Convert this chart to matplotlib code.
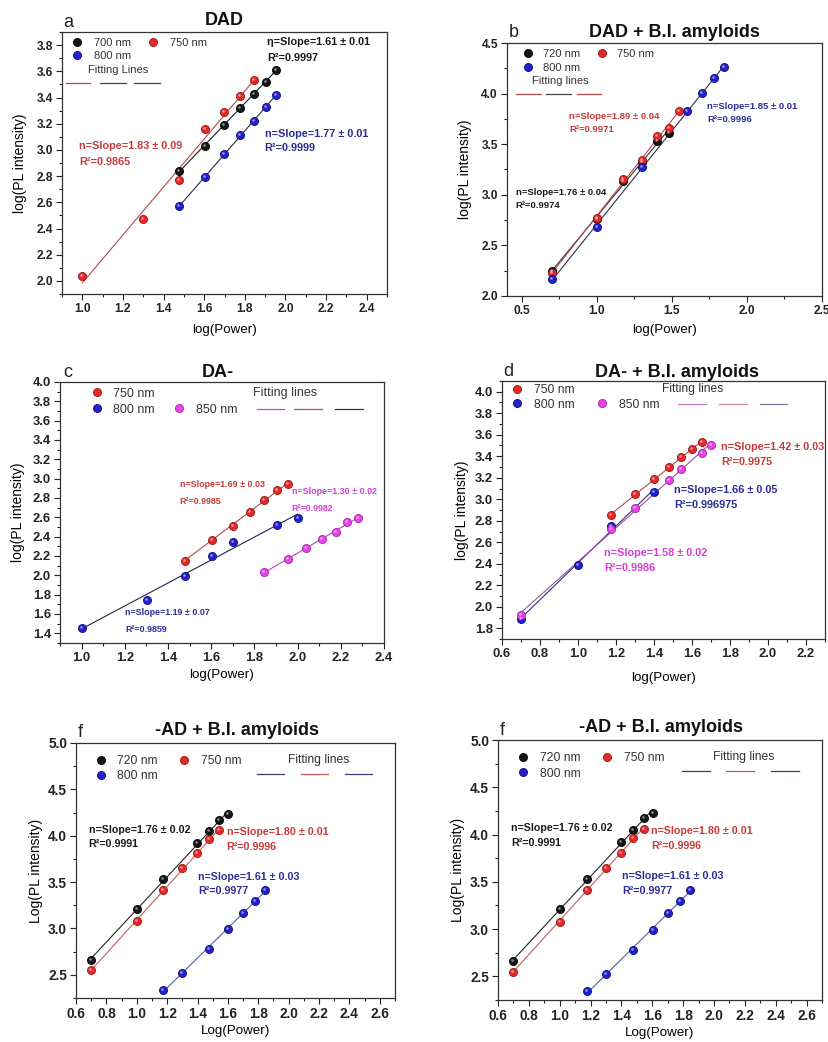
import numpy as np
import matplotlib
matplotlib.use("Agg")
import matplotlib.pyplot as plt
import matplotlib.transforms as mtrans
from matplotlib.ticker import MultipleLocator

plt.rcParams['font.family'] = ['Liberation Sans', 'DejaVu Sans']
plt.rcParams['font.weight'] = 'bold'
plt.rcParams['axes.linewidth'] = 0.9
plt.rcParams['axes.edgecolor'] = '#333333'

W, H = 829, 1042

# ---- values: x = log(power), y = log(PL intensity) ----
# a: DAD
a_x_700 = [1.477, 1.602, 1.699, 1.778, 1.845, 1.903, 1.954]
a_y_700 = [2.84, 3.03, 3.19, 3.32, 3.43, 3.52, 3.61]
a_x_750 = [1.0, 1.301, 1.477, 1.602, 1.699, 1.778, 1.845]
a_y_750 = [2.04, 2.47, 2.77, 3.16, 3.29, 3.41, 3.53]
a_x_800 = [1.477, 1.602, 1.699, 1.778, 1.845, 1.903, 1.954]
a_y_800 = [2.57, 2.79, 2.97, 3.11, 3.22, 3.33, 3.42]

# b: DAD + B.I. amyloids
b_x_720 = [0.699, 1.0, 1.176, 1.301, 1.398, 1.477]
b_y_720 = [2.25, 2.76, 3.14, 3.32, 3.53, 3.61]
b_x_750 = [0.699, 1.0, 1.176, 1.301, 1.398, 1.477, 1.544]
b_y_750 = [2.23, 2.77, 3.16, 3.34, 3.58, 3.66, 3.83]
b_x_800 = [0.699, 1.0, 1.301, 1.602, 1.699, 1.778, 1.845]
b_y_800 = [2.17, 2.68, 3.27, 3.83, 4.01, 4.15, 4.26]

# c: DA-
c_x_750 = [1.477, 1.602, 1.699, 1.778, 1.845, 1.903, 1.954]
c_y_750 = [2.15, 2.37, 2.51, 2.66, 2.78, 2.88, 2.94]
c_x_800 = [1.0, 1.301, 1.477, 1.602, 1.699, 1.903, 2.0]
c_y_800 = [1.46, 1.75, 1.99, 2.20, 2.34, 2.52, 2.59]
c_x_850 = [1.845, 1.954, 2.041, 2.114, 2.176, 2.230, 2.279]
c_y_850 = [2.03, 2.17, 2.28, 2.38, 2.45, 2.55, 2.59]

# d: DA- + B.I. amyloids
d_x_750 = [1.176, 1.301, 1.398, 1.477, 1.544, 1.602, 1.653]
d_y_750 = [2.85, 3.05, 3.19, 3.30, 3.39, 3.47, 3.53]
d_x_800 = [0.699, 1.0, 1.176, 1.398]
d_y_800 = [1.89, 2.39, 2.75, 3.07]
d_x_850 = [0.699, 1.176, 1.301, 1.477, 1.544, 1.653, 1.699]
d_y_850 = [1.92, 2.72, 2.92, 3.18, 3.28, 3.43, 3.50]

# f: -AD + B.I. amyloids (shown twice)
f_x_720 = [0.699, 1.0, 1.176, 1.398, 1.477, 1.544, 1.602]
f_y_720 = [2.66, 3.21, 3.53, 3.92, 4.05, 4.17, 4.23]
f_x_750 = [0.699, 1.0, 1.176, 1.301, 1.398, 1.477, 1.544]
f_y_750 = [2.55, 3.08, 3.41, 3.65, 3.81, 3.96, 4.06]
f_x_800 = [1.176, 1.301, 1.477, 1.602, 1.699, 1.778, 1.845]
f_y_800 = [2.34, 2.52, 2.78, 2.99, 3.17, 3.30, 3.41]

BLACK = ('#161616', '#000000')
RED = ('#e5292b', '#9c1414')
BLUE = ('#2222cc', '#0c0c7a')
MAGENTA = ('#e444e8', '#a224a6')

T_BLACK = '#1a1a1a'
T_RED = '#c83a3a'
T_BLUE = '#2c2c96'
T_MAG = '#d23ed6'

fig = plt.figure(figsize=(W / 100, H / 100), dpi=100)
fig.patch.set_facecolor('white')


def make_ax(left, top, right, bottom):
    return fig.add_axes([left / W, 1 - bottom / H, (right - left) / W, (bottom - top) / H])


def series(ax, x, y, col, fit_col, label):
    x = np.asarray(x)
    y = np.asarray(y)
    k, b = np.polyfit(x, y, 1)
    xs = np.array([x.min(), x.max()])
    ax.plot(xs, k * xs + b, color=fit_col, lw=0.8, zorder=2)
    h, = ax.plot(x, y, 'o', ms=5.8, mfc=col[0], mec=col[1], mew=0.6, label=label, zorder=3)
    # little highlight so the dots look like the shaded balls
    shift = mtrans.offset_copy(ax.transData, fig=fig, x=-1.0, y=1.0, units='dots')
    ax.plot(x, y, 'o', ms=1.8, mfc='white', mec='none', alpha=0.55, transform=shift, zorder=4)
    return h


def style(ax, xlim, ylim, xstep, ystep, fs):
    ax.set_xlim(xlim)
    ax.set_ylim(ylim)
    ax.xaxis.set_major_locator(MultipleLocator(xstep))
    ax.xaxis.set_minor_locator(MultipleLocator(xstep / 2))
    ax.yaxis.set_major_locator(MultipleLocator(ystep))
    ax.yaxis.set_minor_locator(MultipleLocator(ystep / 2))
    ax.tick_params(which='both', direction='out', top=False, right=False,
                   labelsize=fs, width=0.8, colors='#222222', pad=2.5)
    ax.tick_params(which='major', length=4)
    ax.tick_params(which='minor', length=2)


def labels(ax, xl, yl, xly, ylx):
    ax.set_xlabel(xl, fontsize=9.6)
    ax.set_ylabel(yl, fontsize=10)
    ax.xaxis.set_label_coords(0.5, xly)
    ax.yaxis.set_label_coords(ylx, 0.5)
    ax.xaxis.label.set_verticalalignment('center')
    ax.yaxis.label.set_verticalalignment('center')


def heading(ax, letter, lx, ly, title, tx, ty):
    ax.text(lx, ly, letter, transform=ax.transAxes, ha='center', va='center',
            fontsize=13, fontweight='normal', color='#222222')
    ax.text(tx, ty, title, transform=ax.transAxes, ha='center', va='center',
            fontsize=13, color='#111111')


def key(ax, handles, names, mx, my, fs, hp, cs, ls):
    pos = ax.get_position()
    wpx = pos.width * W
    hpx = pos.height * H
    fpx = fs * 100 / 72
    ax.legend(handles, names, loc='upper left',
              bbox_to_anchor=(mx - 0.5 * fpx / wpx, my + 0.42 * fpx / hpx),
              ncol=2, frameon=False, borderpad=0, borderaxespad=0,
              handlelength=1.0, handletextpad=hp, columnspacing=cs, labelspacing=ls,
              prop={'size': fs, 'weight': 'normal'}, labelcolor='#333333')


def fit_key(ax, text, tx, ty, sy, segs, colors, fs):
    ax.text(tx, ty, text, transform=ax.transAxes, ha='left', va='center',
            fontsize=fs, fontweight='normal', color='#333333')
    for (x0, x1), c in zip(segs, colors):
        ax.plot([x0, x1], [sy, sy], transform=ax.transAxes, color=c, lw=0.9)


def note(ax, x, y1, y2, t1, t2, color, fs):
    ax.text(x, y1, t1, color=color, fontsize=fs, ha='left', va='center', zorder=5)
    ax.text(x, y2, t2, color=color, fontsize=fs, ha='left', va='center', zorder=5)


blank = plt.Line2D([], [], linestyle='none')

# ---------------- a ----------------
ax = make_ax(62, 32, 387, 294)
h1 = series(ax, a_x_700, a_y_700, BLACK, '#1a1a1a', '700 nm')
h2 = series(ax, a_x_750, a_y_750, RED, '#b24a4a', '750 nm')
h3 = series(ax, a_x_800, a_y_800, BLUE, '#2e2e44', '800 nm')
style(ax, (0.9, 2.5), (1.9, 3.9), 0.2, 0.2, 8.6)
labels(ax, 'log(Power)', 'log(PL intensity)', -0.137, -0.129)
heading(ax, 'a', 0.02, 1.036, 'DAD', 0.5, 1.042)
key(ax, [h1, h3, h2], ['700 nm', '800 nm', '750 nm'], 0.045, 0.958, 8, 1.06, 1.48, 0.27)
fit_key(ax, 'Fitting Lines', 0.08, 0.855, 0.805,
        [(0.012, 0.086), (0.117, 0.197), (0.222, 0.302)], ['#b24a4a', '#444444', '#444444'], 8)
note(ax, 1.91, 3.825, 3.703, 'η=Slope=1.61 ± 0.01', 'R²=0.9997', T_BLACK, 7.8)
note(ax, 0.984, 3.027, 2.905, 'n=Slope=1.83 ± 0.09', 'R²=0.9865', T_RED, 7.8)
note(ax, 1.898, 3.124, 3.012, 'n=Slope=1.77 ± 0.01', 'R²=0.9999', T_BLUE, 7.8)

# ---------------- b ----------------
ax = make_ax(507, 43, 822, 296)
h1 = series(ax, b_x_720, b_y_720, BLACK, '#333333', '720 nm')
h2 = series(ax, b_x_750, b_y_750, RED, '#b24a4a', '750 nm')
h3 = series(ax, b_x_800, b_y_800, BLUE, '#303050', '800 nm')
style(ax, (0.4, 2.5), (2.0, 4.5), 0.5, 0.5, 8.6)
labels(ax, 'log(Power)', 'log(PL intensity)', -0.134, -0.134)
heading(ax, 'b', 0.02, 1.042, 'DAD + B.I. amyloids', 0.533, 1.042)
key(ax, [h1, h3, h2], ['720 nm', '800 nm', '750 nm'], 0.067, 0.958, 8, 0.85, 1.43, 0.33)
fit_key(ax, 'Fitting lines', 0.078, 0.85, 0.80,
        [(0.028, 0.107), (0.123, 0.202), (0.221, 0.298)], ['#b24a4a', '#444444', '#b24a4a'], 8)
note(ax, 0.816, 3.776, 3.648, 'n=Slope=1.89 ± 0.04', 'R²=0.9971', T_RED, 6.8)
note(ax, 1.735, 3.875, 3.747, 'n=Slope=1.85 ± 0.01', 'R²=0.9996', T_BLUE, 6.8)
note(ax, 0.458, 3.02, 2.891, 'n=Slope=1.76 ± 0.04', 'R²=0.9974', T_BLACK, 6.8)

# ---------------- c ----------------
ax = make_ax(60, 382, 384, 643)
h1 = series(ax, c_x_750, c_y_750, RED, '#b24a4a', '750 nm')
h2 = series(ax, c_x_800, c_y_800, BLUE, '#22224e', '800 nm')
h3 = series(ax, c_x_850, c_y_850, MAGENTA, '#c040c0', '850 nm')
style(ax, (0.9, 2.4), (1.3, 4.0), 0.2, 0.2, 9.4)
labels(ax, 'log(Power)', 'log(PL intensity)', -0.122, -0.13)
heading(ax, 'c', 0.025, 1.035, 'DA-', 0.488, 1.037)
key(ax, [h1, h2, blank, h3], ['750 nm', '800 nm', '', '850 nm'], 0.113, 0.958, 9, 0.83, 1.44, 0.32)
fit_key(ax, 'Fitting lines', 0.597, 0.958, 0.897,
        [(0.607, 0.691), (0.722, 0.808), (0.849, 0.934)], ['#c050c0', '#c05050', '#333355'], 9)
note(ax, 1.454, 2.94, 2.76, 'n=Slope=1.69 ± 0.03', 'R²=0.9985', T_RED, 6.4)
note(ax, 1.972, 2.87, 2.688, 'n=Slope=1.30 ± 0.02', 'R²=0.9982', T_MAG, 6.4)
note(ax, 1.203, 1.62, 1.44, 'n=Slope=1.19 ± 0.07', 'R²=0.9859', T_BLUE, 6.4)

# ---------------- d ----------------
ax = make_ax(502, 381, 825, 639)
h1 = series(ax, d_x_750, d_y_750, RED, '#b24a4a', '750 nm')
h2 = series(ax, d_x_800, d_y_800, BLUE, '#303070', '800 nm')
h3 = series(ax, d_x_850, d_y_850, MAGENTA, '#a050a0', '850 nm')
style(ax, (0.6, 2.3), (1.7, 4.1), 0.2, 0.2, 9.4)
labels(ax, 'log(Power)', 'log(PL intensity)', -0.151, -0.125)
heading(ax, 'd', 0.019, 1.037, 'DA- + B.I. amyloids', 0.542, 1.034)
key(ax, [h1, h2, blank, h3], ['750 nm', '800 nm', '', '850 nm'], 0.0455, 0.968, 8.7, 0.93, 1.73, 0.21)
fit_key(ax, 'Fitting lines', 0.494, 0.968, 0.91,
        [(0.546, 0.631), (0.672, 0.757), (0.799, 0.883)], ['#c080c8', '#d08a9a', '#7a7a9a'], 8.7)
note(ax, 1.753, 3.484, 3.345, 'n=Slope=1.42 ± 0.03', 'R²=0.9975', T_RED, 7.8)
note(ax, 1.507, 3.088, 2.949, 'n=Slope=1.66 ± 0.05', 'R²=0.996975', T_BLUE, 7.8)
note(ax, 1.137, 2.501, 2.362, 'n=Slope=1.58 ± 0.02', 'R²=0.9986', T_MAG, 7.8)

# ---------------- f (twice) ----------------
for box, ylx, xly, lx, ly, ty in [((76, 743, 395, 998), -0.125, -0.131, 0.0125, 1.043, 1.05),
                                  ((498, 740, 822, 1000), -0.123, -0.127, 0.012, 1.038, 1.049)]:
    ax = make_ax(*box)
    h1 = series(ax, f_x_720, f_y_720, BLACK, '#222222', '720 nm')
    h2 = series(ax, f_x_750, f_y_750, RED, '#c06060', '750 nm')
    h3 = series(ax, f_x_800, f_y_800, BLUE, '#5060a0', '800 nm')
    style(ax, (0.6, 2.7), (2.25, 5.0), 0.2, 0.5, 9.8)
    labels(ax, 'Log(Power)', 'Log(PL intensity)', xly, ylx)
    heading(ax, 'f', lx, ly, '-AD + B.I. amyloids', 0.504, ty)
    key(ax, [h1, h3, h2], ['720 nm', '800 nm', '750 nm'], 0.077, 0.934, 8.7, 0.88, 1.70, 0.29)
    fit_key(ax, 'Fitting lines', 0.664, 0.934, 0.879,
            [(0.567, 0.653), (0.704, 0.790), (0.842, 0.928)], ['#3a3a6a', '#c05a5a', '#3a3a80'], 8.7)
    note(ax, 0.683, 4.067, 3.91, 'n=Slope=1.76 ± 0.02', 'R²=0.9991', T_BLACK, 7.7)
    note(ax, 1.592, 4.042, 3.88, 'n=Slope=1.80 ± 0.01', 'R²=0.9996', T_RED, 7.7)
    note(ax, 1.405, 3.558, 3.408, 'n=Slope=1.61 ± 0.03', 'R²=0.9977', T_BLUE, 7.7)

fig.savefig('out.png', dpi=100)
